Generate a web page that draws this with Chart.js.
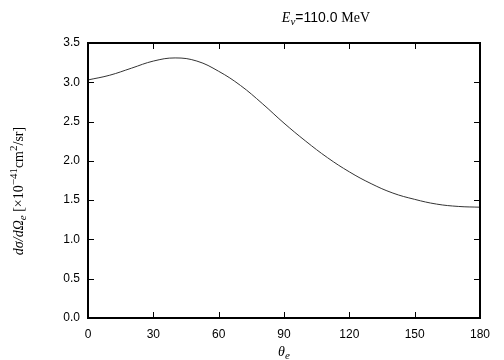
<!DOCTYPE html>
<html><head><meta charset="utf-8">
<script src="https://cdn.jsdelivr.net/npm/chart.js@4/dist/chart.umd.min.js"></script>
<style>html,body{margin:0;padding:0;background:#fff}#w{width:504px;height:360px}</style>
</head><body><div id="w"><canvas id="c" width="504" height="360"></canvas></div>
<script>
const thetaDeg = [0,10,20,30,40,50,60,70,80,90,100,110,120,130,140,150,160,170,180];
const crossSection = [3.03,3.09,3.18,3.27,3.31,3.27,3.14,2.96,2.73,2.48,2.25,2.04,1.86,1.71,1.59,1.51,1.45,1.42,1.41];
const xTicks = [0,30,60,90,120,150,180];
const yTicks = [0,0.5,1.0,1.5,2.0,2.5,3.0,3.5];
const titleParts = [["E","italic 14px 'Liberation Serif'",0],["ν","italic 11px 'Liberation Serif'",3],["=110.0 ","14px 'Liberation Sans'",0],["MeV","14px 'Liberation Serif'",0]];
const yLabelParts = [["dσ/dΩ","italic 14px 'Liberation Serif'",0],["e","italic 11px 'Liberation Serif'",3],[" [×10","14px 'Liberation Serif'",0],["−41","11px 'Liberation Serif'",-6],["cm","14px 'Liberation Serif'",0],["2","11px 'Liberation Serif'",-6],["/sr]","14px 'Liberation Serif'",0]];
const xLabelParts = [["θ","italic 14px 'Liberation Serif'",0],["e","italic 11px 'Liberation Serif'",3]];

function drawRich(ctx, parts, cx, cy, rot){
  ctx.save();
  ctx.translate(cx, cy);
  if (rot) ctx.rotate(rot);
  let w = 0;
  for (const p of parts){ ctx.font = p[1]; w += ctx.measureText(p[0]).width; }
  let x = -w/2;
  ctx.fillStyle = '#000';
  ctx.textBaseline = 'alphabetic';
  for (const p of parts){ ctx.font = p[1]; ctx.fillText(p[0], x, 5 + p[2]); x += ctx.measureText(p[0]).width; }
  ctx.restore();
}

const framePlugin = {
  id: 'frame',
  afterDraw(chart){
    const ctx = chart.ctx, a = chart.chartArea;
    const xs = chart.scales.x, ys = chart.scales.y;
    ctx.save();
    ctx.strokeStyle = '#000';
    ctx.lineWidth = 1;
    ctx.beginPath();
    for (const t of xTicks){
      const px = Math.round(xs.getPixelForValue(t)) + 0.5;
      ctx.moveTo(px, a.bottom); ctx.lineTo(px, a.bottom - 6);
      ctx.moveTo(px, a.top); ctx.lineTo(px, a.top + 6);
    }
    for (const t of yTicks){
      const py = Math.round(ys.getPixelForValue(t)) + 0.5;
      ctx.moveTo(a.left, py); ctx.lineTo(a.left + 6, py);
      ctx.moveTo(a.right, py); ctx.lineTo(a.right - 6, py);
    }
    ctx.stroke();
    ctx.lineWidth = 2;
    ctx.strokeRect(a.left, a.top, a.right - a.left, a.bottom - a.top);
    ctx.restore();
    drawRich(ctx, titleParts, 326, 17, 0);
    drawRich(ctx, yLabelParts, 18, 191, -Math.PI/2);
    drawRich(ctx, xLabelParts, (a.left + a.right)/2, 351, 0);
  }
};

new Chart(document.getElementById('c'), {
  type: 'line',
  data: { datasets: [{
    data: thetaDeg.map((t,i)=>({x:t, y:crossSection[i]})),
    borderColor: '#333', borderWidth: 1, pointRadius: 0,
    tension: 0.4, fill: false
  }]},
  options: {
    responsive: false, animation: false,
    layout: { padding: { top: 43, right: 24, left: 0, bottom: 0 } },
    plugins: { legend: { display: false }, tooltip: { enabled: false } },
    scales: {
      x: { type: 'linear', min: 0, max: 180,
        afterBuildTicks(s){ s.ticks = xTicks.map(v=>({value:v})); },
        afterFit(s){ s.height = 42; },
        grid: { display: false, drawTicks: false }, border: { display: false },
        ticks: { padding: 9, color: '#000', font: { family: "'Liberation Sans'", size: 12 }, maxRotation: 0 } },
      y: { min: 0, max: 3.5,
        afterBuildTicks(s){ s.ticks = yTicks.map(v=>({value:v})); },
        afterFit(s){ s.width = 88; },
        grid: { display: false, drawTicks: false }, border: { display: false },
        ticks: { padding: 8, color: '#000', font: { family: "'Liberation Sans'", size: 12 },
          callback: v => Number(v).toFixed(1) } }
    }
  },
  plugins: [framePlugin]
});
</script></body></html>
